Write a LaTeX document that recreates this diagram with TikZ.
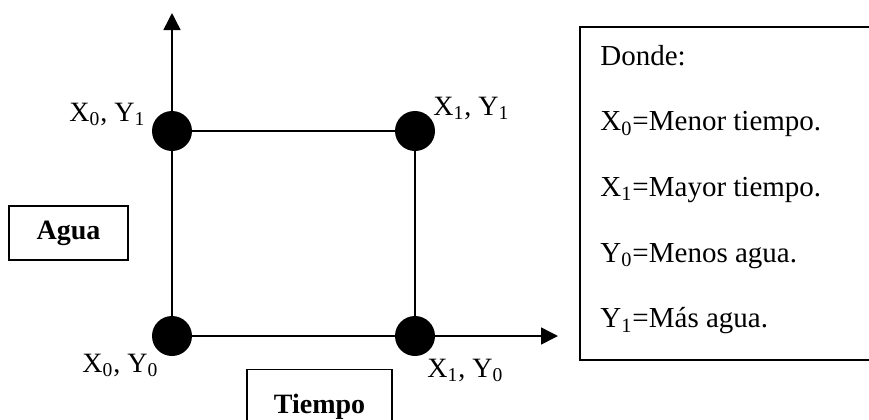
\documentclass[tikz,border=0pt]{standalone}
\usepackage{fontspec}
\setmainfont{Liberation Serif}
\usetikzlibrary{arrows.meta}
\tikzset{
  punto/.style={circle, fill=black, minimum width=20pt, minimum height=19.5pt, inner sep=0pt},
  lado/.style={line width=1.35pt},
  eje/.style={line width=0.75pt, -{Triangle[length=8.5pt, width=8.5pt]}},
  caja/.style={draw, line width=0.7pt, inner sep=0pt},
  etiq/.style={inner sep=0pt, anchor=base west}
}
\begin{document}
\begin{tikzpicture}[x=0.5pt, y=-0.5pt, font=\fontsize{14}{17}\selectfont]
\useasboundingbox (0,0) rectangle (869,419);
\clip (0,0) rectangle (869,419);
% corners of the square
\node[punto] (x0y1) at (172,131) {};
\node[punto] (x1y1) at (415,131) {};
\node[punto] (x0y0) at (172,336) {};
\node[punto] (x1y0) at (415,336) {};
\draw[lado] (x0y0) -- (x1y0) -- (x1y1) -- (x0y1) -- (x0y0);
% axes
\coordinate (ytip) at (172,13);
\coordinate (xtip) at (558,336);
\draw[eje] (x0y1.center) -- (ytip);
\draw[eje] (x1y0.center) -- (xtip);
% corner labels
\node[etiq] (lx0y1) at (69,121) {X\textsubscript{0}, Y\textsubscript{1}};
\node[etiq] (lx1y1) at (433,115) {X\textsubscript{1}, Y\textsubscript{1}};
\node[etiq] (lx0y0) at (82,372) {X\textsubscript{0}, Y\textsubscript{0}};
\node[etiq] (lx1y0) at (427,377) {X\textsubscript{1}, Y\textsubscript{0}};
% axis names
\node[caja, minimum width=59.5pt, minimum height=27pt] (agua) at (68.5,233) {\bfseries Agua};
\node[caja, minimum width=72.5pt, minimum height=37.5pt, anchor=north] (tiempo) at (319.5,369) {\bfseries Tiempo};
% legend
\draw[line width=0.7pt] (580,27) rectangle (890,360);
\foreach \t [count=\i from 0] in {Donde:, X\textsubscript{0}=Menor tiempo., X\textsubscript{1}=Mayor tiempo., Y\textsubscript{0}=Menos agua., Y\textsubscript{1}=Más agua.}
  \node[inner sep=0pt, anchor=base west, font=\fontsize{14.5}{17}\selectfont] (ley\i) at (600,{65+65.7*\i}) {\t};
\end{tikzpicture}
\end{document}
